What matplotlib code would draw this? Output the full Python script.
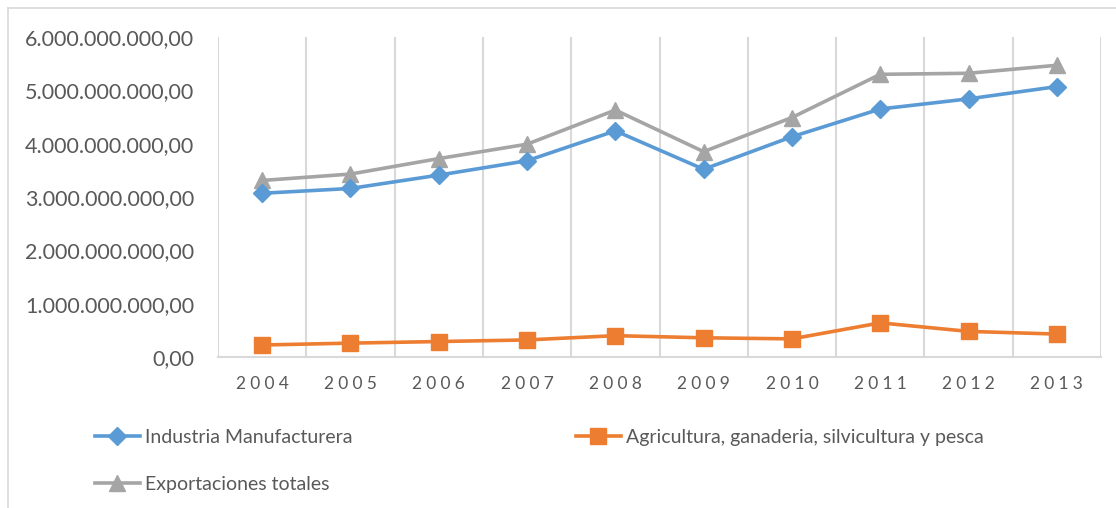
import matplotlib
matplotlib.use("Agg")
import matplotlib.pyplot as plt
from matplotlib.lines import Line2D
from matplotlib.ticker import FuncFormatter, MultipleLocator

plt.rcParams['font.family'] = ['Lato', 'DejaVu Sans']

years = ['2004', '2005', '2006', '2007', '2008', '2009', '2010', '2011', '2012', '2013']
industria = [3.07e9, 3.16e9, 3.41e9, 3.68e9, 4.24e9, 3.52e9, 4.13e9, 4.65e9, 4.84e9, 5.07e9]
agricultura = [0.225e9, 0.26e9, 0.29e9, 0.32e9, 0.40e9, 0.36e9, 0.34e9, 0.64e9, 0.48e9, 0.43e9]
exportaciones = [3.31e9, 3.43e9, 3.72e9, 3.99e9, 4.63e9, 3.85e9, 4.49e9, 5.30e9, 5.32e9, 5.47e9]

labels = ['Industria Manufacturera',
          'Agricultura, ganaderia, silvicultura y pesca',
          'Exportaciones totales']
colors = ['#5B9BD5', '#ED7D31', '#A5A5A5']
text_color = '#595959'
grid_color = '#D9D9D9'

W, H = 1116, 508
fig = plt.figure(figsize=(W / 100, H / 100), dpi=100)
ax = fig.add_axes([218 / W, 1 - 357 / H, (1101 - 218) / W, (357 - 37) / H])

x = list(range(len(years)))
l1, = ax.plot(x, industria, color=colors[0], lw=2.6, marker='D', ms=9,
              label=labels[0], zorder=3)
l2, = ax.plot(x, agricultura, color=colors[1], lw=2.6, marker='s', ms=11.5,
              label=labels[1], zorder=3)
l3, = ax.plot(x, exportaciones, color=colors[2], lw=2.6, marker='^', ms=11,
              label=labels[2], zorder=2)

ax.set_xlim(-0.5, len(years) - 0.5)
ax.set_ylim(0, 6e9)
ax.yaxis.set_major_locator(MultipleLocator(1e9))

def fmt(v, pos):
    s = f"{v:,.2f}"
    return s.replace(',', 'X').replace('.', ',').replace('X', '.')

ax.yaxis.set_major_formatter(FuncFormatter(fmt))

# vertical gridlines between categories
for b in [i - 0.5 for i in range(len(years) + 1)]:
    ax.axvline(b, color=grid_color, lw=1.5, zorder=1)

ax.set_xticks(x)
spaced = ['\u2009\u2009'.join(list(y)) for y in years]
ax.set_xticklabels(spaced)

for s in ['top', 'left', 'right']:
    ax.spines[s].set_visible(False)
ax.spines['bottom'].set_color(grid_color)
ax.spines['bottom'].set_linewidth(1.5)

ax.tick_params(axis='y', length=0, pad=17, labelsize=15.5, labelcolor=text_color)
ax.tick_params(axis='x', length=0, pad=14, labelsize=12.5, labelcolor=text_color)

leg_kw = dict(frameon=False, fontsize=14, handlelength=2.3, handletextpad=0.25,
              labelspacing=1.55, labelcolor=text_color, borderaxespad=0,
              borderpad=0)
fig.legend([l1, l3], [labels[0], labels[2]], loc='upper left',
           bbox_to_anchor=(95 / W, 1 - 429 / H), **leg_kw)
fig.legend([l2], [labels[1]], loc='upper left',
           bbox_to_anchor=(576 / W, 1 - 429 / H), **leg_kw)

# outer chart border
fig.add_artist(Line2D([8 / W, 8 / W], [0, 1 - 8 / H], transform=fig.transFigure,
                      color=grid_color, lw=1.2))
fig.add_artist(Line2D([8 / W, 1], [1 - 8 / H, 1 - 8 / H], transform=fig.transFigure,
                      color=grid_color, lw=1.2))

fig.savefig('out.png', dpi=100)
